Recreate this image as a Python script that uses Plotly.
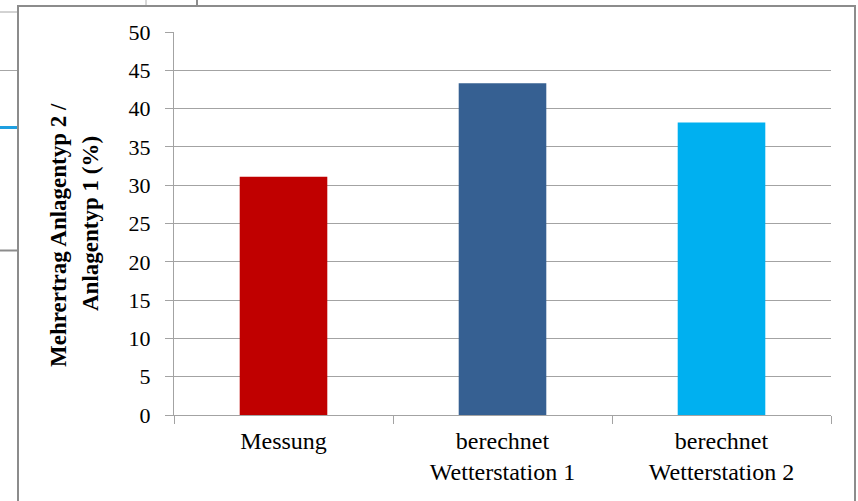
import plotly.graph_objects as go

# Mehrertrag von Anlagentyp 2 gegenüber Anlagentyp 1
categories = ["Messung", "berechnet<br>Wetterstation 1", "berechnet<br>Wetterstation 2"]
values = [31.1, 43.3, 38.2]
bar_colors = ["#C00000", "#366092", "#00B0F0"]
y_ticks = [0, 5, 10, 15, 20, 25, 30, 35, 40, 45, 50]
title_lines = ["Mehrertrag Anlagentyp 2 /", "Anlagentyp 1 (%)"]

W, H = 858, 501
L, R, T, B = 174, 27, 32, 86
PW, PH = W - L - R, H - T - B


def xp(px):
    return (px - L) / PW


def yp(py):
    return (H - B - py) / PH


FONT = "Liberation Serif, Times New Roman, serif"
GRID = "#a3a3a3"
FRAME = "#8c8c8c"

fig = go.Figure(
    go.Bar(
        x=categories,
        y=values,
        marker=dict(color=bar_colors, line=dict(width=0)),
        width=0.4,
        showlegend=False,
        hoverinfo="x+y",
    )
)


def hline(y, x0, x1, color, width):
    return dict(type="line", xref="paper", yref="paper",
                x0=xp(x0), x1=xp(x1), y0=yp(y), y1=yp(y),
                line=dict(color=color, width=width), layer="above")


def vline(x, y0, y1, color, width):
    return dict(type="line", xref="paper", yref="paper",
                x0=xp(x), x1=xp(x), y0=yp(y0), y1=yp(y1),
                line=dict(color=color, width=width), layer="above")


shapes = [
    # chart frame
    vline(18, 6, 510, FRAME, 2),
    hline(6, 17, 856, FRAME, 2),
    vline(855, 6, 510, FRAME, 2),
    # neighbouring elements at the edges
    hline(12, -2, 17, "#a6a6a6", 1),
    hline(70.5, -2, 17, "#a6a6a6", 1),
    hline(127.5, -2, 17, "#1e9fe0", 3),
    hline(250.5, -2, 17, "#8c8c8c", 2),
    vline(146, -2, 5, "#b0b0b0", 1),
    vline(197, -2, 5, "#8c8c8c", 2),
]

annotations = [
    dict(text=f"<b>{title_lines[0]}</b>", xref="paper", yref="paper",
         x=xp(58), y=yp(235), textangle=-90, showarrow=False,
         xanchor="center", yanchor="middle",
         font=dict(family=FONT, size=23, color="#000000")),
    dict(text=f"<b>{title_lines[1]}</b>", xref="paper", yref="paper",
         x=xp(90), y=yp(224), textangle=-90, showarrow=False,
         xanchor="center", yanchor="middle",
         font=dict(family=FONT, size=23, color="#000000")),
]

fig.update_layout(
    width=W,
    height=H,
    margin=dict(l=L, r=R, t=T, b=B, pad=0),
    paper_bgcolor="#ffffff",
    plot_bgcolor="#ffffff",
    font=dict(family=FONT, size=22, color="#000000"),
    bargap=0.6,
    shapes=shapes,
    annotations=annotations,
    xaxis=dict(
        showline=True, linecolor=GRID, linewidth=1,
        ticks="outside", tickson="boundaries", ticklen=8,
        tickcolor=GRID, tickwidth=1, showgrid=False,
        tickfont=dict(family=FONT, size=24, color="#000000"),
        ticklabelstandoff=4,
    ),
    yaxis=dict(
        range=[0, 50], tickvals=y_ticks,
        showline=True, linecolor=GRID, linewidth=1,
        ticks="outside", ticklen=8, tickcolor=GRID, tickwidth=1,
        showgrid=True, gridcolor=GRID, gridwidth=1, zeroline=False,
        tickfont=dict(family=FONT, size=22, color="#000000"),
        ticklabelstandoff=10,
    ),
)

fig.write_html("out.html")
